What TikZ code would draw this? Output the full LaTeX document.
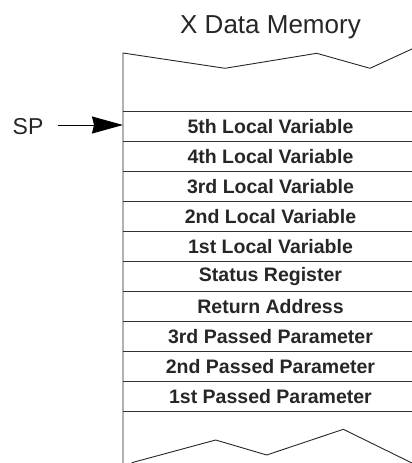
\documentclass[tikz,border=0pt]{standalone}
\usepackage{fontspec}
\setmainfont{Liberation Sans}
\usetikzlibrary{calc,arrows.meta}

\begin{document}
\begin{tikzpicture}[x=1pt, y=-1pt,
    cell/.style={minimum width=289pt, minimum height=30pt, inner sep=0pt,
      text=black!85, font=\fontsize{19.5}{22}\selectfont\bfseries},
    rule/.style={draw=black!80, line width=1.2pt},
    edge/.style={draw=black!85, line width=0.9pt, line join=round}]
    \useasboundingbox (0,0) rectangle (412,463);
    \node[font=\fontsize{26}{30}\selectfont, text=black!85] (title) at (270.5,27) {X Data Memory};
    \coordinate (s) at (267.5,126.5);
    \foreach \token [count=\i] in {5th Local Variable,4th Local Variable,3rd Local Variable,
      2nd Local Variable,1st Local Variable,Status Register,Return Address,
      3rd Passed Parameter,2nd Passed Parameter,1st Passed Parameter}{
      \node[cell] (c\i) at (s) {\hspace*{6pt}\token};
      \draw[rule] (c\i.north west) -- (c\i.north east);
      \coordinate (s) at ($(s) + (0,30)$);
    }
    \draw[rule] (c10.south west) -- (c10.south east);
    % broken edges of the memory block
    \draw[edge] (123,463) -- (123,53) -- (225,68.3) -- (316.7,53.3) -- (370,68.3) -- (413,48.5);
    \draw[edge] (131.7,462.7) -- (215.7,440) -- (266.7,455) -- (343.3,429.3) -- (413,463.5);
    \node[font=\fontsize{23}{26}\selectfont, text=black!85, inner sep=0pt] (sp) at (28,127) {SP};
    \coordinate (ptr) at (123,125);
    \draw[black, line width=1pt, -{Stealth[length=31pt, width=17pt, inset=2pt]}]
      ($(sp.east |- ptr) + (14,0)$) -- (ptr);
  \end{tikzpicture}
\end{document}
